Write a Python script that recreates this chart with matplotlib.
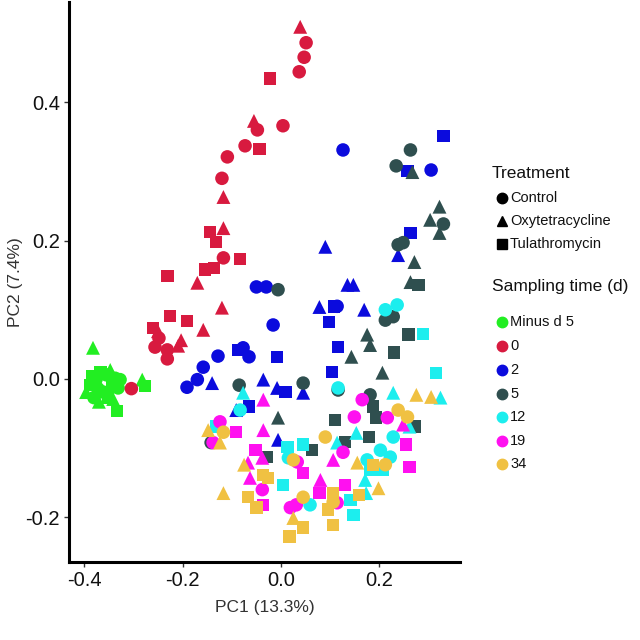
# PCA scatter: sampling time (colour) x treatment (shape)
import matplotlib
matplotlib.use("Agg")
import matplotlib.pyplot as plt
from matplotlib.lines import Line2D

plt.rcParams['font.family'] = ['Liberation Sans', 'DejaVu Sans']

# ============================================
# Data
# C = Control, O = Oxytetracycline, T = Tulathromycin
# ============================================

dm5_pc1 = [-0.382, -0.282, -0.276, -0.333, -0.396, -0.388, -0.376, -0.367, -0.355, -0.347,
           -0.337, -0.331, -0.343, -0.361, -0.351, -0.370, -0.380, -0.341, -0.372, -0.327, -0.384]
dm5_pc2 = [0.045, -0.001, -0.010, -0.046, -0.019, -0.009, -0.001, 0.010, 0.006, 0.013,
           0.001, -0.013, -0.010, -0.019, -0.027, -0.033, -0.027, -0.029, -0.014, -0.001, 0.004]
dm5_trt = ['O', 'O', 'T', 'T', 'O', 'T', 'C', 'T', 'C', 'O',
           'C', 'C', 'T', 'C', 'T', 'O', 'C', 'O', 'C', 'C', 'T']

d0_pc1 = [0.039, 0.051, 0.047, 0.037, -0.022, 0.004, -0.055, -0.048, -0.044, -0.073,
          -0.109, -0.120, -0.117, -0.144, -0.117, -0.132, -0.117, -0.083, -0.154, -0.136,
          -0.170, -0.231, -0.120, -0.225, -0.191, -0.158, -0.260, -0.250, -0.256, -0.231,
          -0.231, -0.209, -0.203, -0.304, -0.248]
d0_pc2 = [0.509, 0.486, 0.465, 0.444, 0.434, 0.366, 0.373, 0.360, 0.332, 0.337,
          0.321, 0.290, 0.263, 0.212, 0.218, 0.198, 0.175, 0.173, 0.158, 0.160,
          0.139, 0.149, 0.103, 0.091, 0.084, 0.071, 0.074, 0.069, 0.046, 0.042,
          0.029, 0.048, 0.056, -0.014, 0.059]
d0_trt = ['O', 'C', 'C', 'C', 'T', 'C', 'O', 'C', 'T', 'C',
          'C', 'C', 'O', 'T', 'O', 'T', 'C', 'T', 'T', 'T',
          'O', 'T', 'O', 'T', 'T', 'O', 'T', 'O', 'C', 'C',
          'C', 'O', 'O', 'C', 'C']

d2_pc1 = [0.126, 0.330, 0.305, 0.257, 0.263, 0.238, 0.090, -0.050, -0.030, 0.135,
          0.147, 0.078, 0.114, 0.108, 0.169, -0.016, 0.098, 0.116, -0.008, 0.104,
          -0.087, -0.077, -0.065, -0.128, -0.158, -0.170, -0.191, -0.140, -0.036, -0.008,
          0.009, 0.045, -0.091, -0.065, -0.006]
d2_pc2 = [0.331, 0.351, 0.302, 0.301, 0.211, 0.179, 0.191, 0.133, 0.133, 0.136,
          0.136, 0.104, 0.105, 0.105, 0.100, 0.078, 0.082, 0.046, 0.032, 0.010,
          0.042, 0.045, 0.032, 0.033, 0.017, -0.001, -0.012, -0.006, -0.001, -0.013,
          -0.019, -0.020, -0.045, -0.040, -0.088]
d2_trt = ['C', 'T', 'C', 'T', 'T', 'O', 'O', 'C', 'C', 'O',
          'O', 'O', 'C', 'T', 'O', 'C', 'T', 'T', 'T', 'T',
          'T', 'C', 'C', 'C', 'C', 'C', 'C', 'O', 'O', 'O',
          'T', 'O', 'O', 'T', 'O']

d5_pc1 = [0.263, 0.234, 0.267, 0.322, 0.303, 0.322, 0.330, 0.238, 0.248, 0.271,
          0.263, 0.279, -0.006, 0.212, 0.228, 0.175, 0.181, 0.259, 0.143, 0.230,
          0.206, 0.045, -0.085, 0.116, -0.006, -0.142, -0.028, 0.181, 0.187, 0.193,
          0.110, 0.271, 0.179, 0.130, 0.063]
d5_pc2 = [0.331, 0.308, 0.299, 0.249, 0.230, 0.211, 0.224, 0.194, 0.197, 0.169,
          0.140, 0.136, 0.129, 0.085, 0.090, 0.064, 0.049, 0.064, 0.032, 0.038,
          0.009, -0.006, -0.009, -0.016, -0.056, -0.092, -0.113, -0.023, -0.040, -0.056,
          -0.059, -0.069, -0.084, -0.091, -0.103]
d5_trt = ['C', 'C', 'O', 'O', 'O', 'O', 'C', 'C', 'C', 'O',
          'O', 'T', 'C', 'C', 'C', 'O', 'O', 'T', 'O', 'T',
          'O', 'C', 'C', 'C', 'O', 'C', 'T', 'C', 'T', 'T',
          'T', 'T', 'T', 'T', 'T']

d12_pc1 = [0.212, 0.236, 0.289, 0.315, 0.116, 0.228, 0.324, 0.261, 0.153, 0.114,
           0.228, 0.202, 0.222, 0.175, 0.181, 0.206, 0.171, 0.173, 0.147, 0.141,
           0.059, 0.045, 0.013, 0.015, 0.004, -0.077, -0.083, -0.132]
d12_pc2 = [0.100, 0.107, 0.065, 0.009, -0.013, -0.020, -0.027, -0.069, -0.078, -0.092,
           -0.084, -0.103, -0.113, -0.117, -0.132, -0.132, -0.146, -0.165, -0.197, -0.175,
           -0.182, -0.095, -0.098, -0.114, -0.153, -0.020, -0.045, -0.069]
d12_trt = ['C', 'C', 'T', 'T', 'C', 'O', 'O', 'O', 'O', 'O',
           'C', 'C', 'C', 'C', 'T', 'T', 'O', 'O', 'T', 'T',
           'C', 'T', 'T', 'C', 'T', 'O', 'C', 'T']

d19_pc1 = [-0.036, -0.036, -0.124, -0.091, -0.138, -0.052, -0.038, -0.067, -0.063, -0.038,
           -0.036, 0.033, 0.045, 0.019, 0.031, 0.106, 0.080, 0.078, 0.114, 0.130,
           0.165, 0.149, 0.216, 0.248, 0.254, 0.261, 0.126]
d19_pc2 = [-0.030, -0.074, -0.062, -0.077, -0.092, -0.103, -0.114, -0.121, -0.143, -0.160,
           -0.182, -0.120, -0.136, -0.186, -0.182, -0.117, -0.146, -0.165, -0.179, -0.153,
           -0.030, -0.055, -0.056, -0.066, -0.095, -0.127, -0.106]
d19_trt = ['O', 'O', 'C', 'T', 'C', 'T', 'O', 'O', 'O', 'C',
           'T', 'C', 'T', 'C', 'C', 'O', 'O', 'T', 'C', 'T',
           'C', 'C', 'C', 'O', 'T', 'T', 'C']

d34_pc1 = [-0.148, -0.117, -0.124, -0.075, -0.117, -0.036, -0.026, -0.067, -0.050, 0.025,
           0.025, 0.045, 0.017, 0.045, 0.090, 0.106, 0.096, 0.106, 0.106, 0.275,
           0.305, 0.238, 0.257, 0.155, 0.187, 0.212, 0.198, 0.159]
d34_pc2 = [-0.074, -0.077, -0.092, -0.124, -0.165, -0.139, -0.143, -0.171, -0.186, -0.117,
           -0.201, -0.215, -0.228, -0.171, -0.084, -0.165, -0.189, -0.211, -0.178, -0.023,
           -0.026, -0.045, -0.055, -0.121, -0.124, -0.124, -0.158, -0.168]
d34_trt = ['O', 'C', 'O', 'O', 'O', 'T', 'T', 'T', 'T', 'C',
           'O', 'T', 'T', 'C', 'C', 'T', 'T', 'T', 'C', 'O',
           'O', 'C', 'C', 'O', 'T', 'C', 'O', 'T']

time_labels = ['Minus d 5', '0', '2', '5', '12', '19', '34']
time_colors = ['#22EE22', '#D81A3F', '#0B0BDD', '#2F4F4F', '#1CEEEE', '#FF10F0', '#F0C142']
treat_labels = ['Control', 'Oxytetracycline', 'Tulathromycin']
treat_codes = ['C', 'O', 'T']
treat_markers = ['o', '^', 's']
marker_area = {'o': 95, '^': 100, 's': 80}

groups = [
    (dm5_pc1, dm5_pc2, dm5_trt),
    (d0_pc1, d0_pc2, d0_trt),
    (d2_pc1, d2_pc2, d2_trt),
    (d5_pc1, d5_pc2, d5_trt),
    (d12_pc1, d12_pc2, d12_trt),
    (d19_pc1, d19_pc2, d19_trt),
    (d34_pc1, d34_pc2, d34_trt),
]

# ============================================
# Plot
# ============================================

fig = plt.figure(figsize=(6.4, 6.4), dpi=100)
ax = fig.add_axes([0.108, 0.122, 0.611, 0.875])

for (xs, ys, trt), col in zip(groups, time_colors):
    for code, mk in zip(treat_codes, treat_markers):
        px = [x for x, t in zip(xs, trt) if t == code]
        py = [y for y, t in zip(ys, trt) if t == code]
        ax.scatter(px, py, s=marker_area[mk], marker=mk, color=col,
                   edgecolors='none', zorder=3)

ax.set_xlim(-0.4305, 0.364)
ax.set_ylim(-0.2645, 0.545)
ax.set_xticks([-0.4, -0.2, 0.0, 0.2])
ax.set_xticklabels(['-0.4', '-0.2', '0.0', '0.2'])
ax.set_yticks([-0.2, 0.0, 0.2, 0.4])
ax.set_yticklabels(['-0.2', '0.0', '0.2', '0.4'])

for side in ['top', 'right']:
    ax.spines[side].set_visible(False)
for side in ['left', 'bottom']:
    ax.spines[side].set_linewidth(2.2)
    ax.spines[side].set_color('black')

ax.tick_params(axis='both', length=3.5, width=1.0, color='#333333',
               labelsize=14.5, labelcolor='#111111', pad=3)

ax.set_xlabel('PC1 (13.3%)', fontsize=12.5, color='#333333')
ax.set_ylabel('PC2 (7.4%)', fontsize=12.5, color='#333333')
ax.xaxis.set_label_coords(0.5, -0.068)
ax.yaxis.set_label_coords(-0.118, 0.5)

# ============================================
# Legends (drawn by hand, figure pixel positions)
# ============================================

def fy(py):
    return 1 - py / 640.0

def fx(px):
    return px / 640.0

fig.text(fx(492), fy(173), 'Treatment', fontsize=12.5, color='#111111',
         ha='left', va='center')
for lab, mk, py in zip(treat_labels, treat_markers, [198, 221, 244]):
    fig.add_artist(Line2D([fx(502)], [fy(py)], transform=fig.transFigure,
                          linestyle='none', marker=mk, color='black',
                          markersize=7.5 if mk != 's' else 7))
    fig.text(fx(510), fy(py), lab, fontsize=10.5, color='#111111',
             ha='left', va='center')

fig.text(fx(492), fy(287), 'Sampling time (d)', fontsize=12.5, color='#111111',
         ha='left', va='center')
for lab, col, py in zip(time_labels, time_colors, [322, 346, 370, 394, 417, 441, 464]):
    fig.add_artist(Line2D([fx(502)], [fy(py)], transform=fig.transFigure,
                          linestyle='none', marker='o', color=col, markersize=7.5))
    fig.text(fx(510), fy(py), lab, fontsize=10.5, color='#111111',
             ha='left', va='center')

fig.savefig('out.png', dpi=100)
